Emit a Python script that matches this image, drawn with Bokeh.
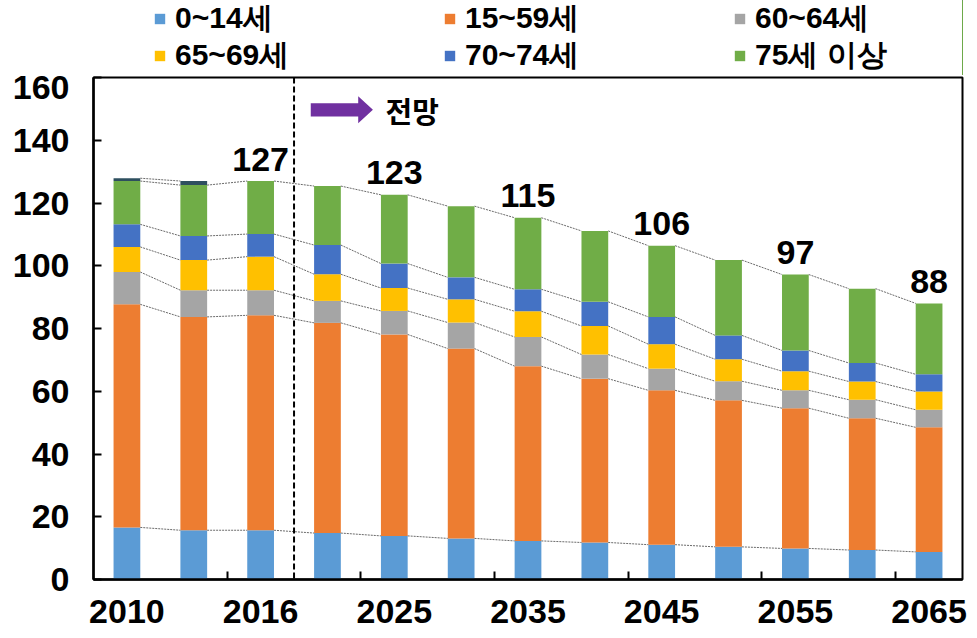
import numpy as np
from bokeh.plotting import figure
from bokeh.layouts import column
from bokeh.models import (Range1d, FixedTicker, Legend, LegendItem, Span, Label,
                          PolyAnnotation, ColumnDataSource)
from bokeh.embed import file_html
from bokeh.resources import INLINE
from bokeh.core.properties import value

# ---------------- data ----------------
years = ["2010", "2013", "2016", "2020", "2025", "2030", "2035",
         "2040", "2045", "2050", "2055", "2060", "2065"]
shown_years = ["2010", "2016", "2025", "2035", "2045", "2055", "2065"]
labelled_years = ["2016", "2025", "2035", "2045", "2055", "2065"]

age0_14 = [16.6, 15.7, 15.7, 14.8, 13.9, 13.1, 12.3, 11.8, 11.1, 10.4, 9.9, 9.4, 8.8]
age15_59 = [71.1, 68.0, 68.5, 67.0, 64.2, 60.5, 55.7, 52.2, 49.2, 46.7, 44.7, 42.0, 39.7]
age60_64 = [10.3, 8.5, 8.0, 7.0, 7.5, 8.3, 9.3, 7.7, 6.9, 6.1, 5.7, 5.9, 5.6]
age65_69 = [8.0, 9.6, 10.7, 8.5, 7.3, 7.4, 8.2, 9.1, 7.8, 7.0, 6.1, 5.8, 5.8]
age70_74 = [7.2, 7.7, 7.2, 9.3, 7.8, 7.0, 7.0, 7.7, 8.7, 7.6, 6.6, 5.9, 5.5]
age75_up = [13.8, 16.2, 16.9, 18.8, 21.9, 22.7, 22.8, 22.6, 22.7, 24.0, 24.2, 23.7, 22.6]
age_other = [0.9, 1.3, 0, 0, 0, 0, 0, 0, 0, 0, 0, 0, 0]

series_names = ["0~14세", "15~59세", "60~64세", "65~69세", "70~74세", "75세 이상"]
y_ticks = [0, 20, 40, 60, 80, 100, 120, 140, 160]

# ---------------- styles ----------------
colors = ["#5B9BD5", "#ED7D31", "#A5A5A5", "#FFC000", "#4472C4", "#70AD47", "#2E4F5F"]
LATIN = "Liberation Sans"
HALF = 0.2  # half bar width
W = 969
LEG_H = 75

series = [age0_14, age15_59, age60_64, age65_69, age70_74, age75_up, age_other]
keys = ["s%d" % i for i in range(len(series))]
x = list(range(1, len(years) + 1))
data = {"x": x}
for k, s in zip(keys, series):
    data[k] = s
src = ColumnDataSource(data)

p = figure(width=W, height=631 - LEG_H, x_range=Range1d(0.5, len(years) + 0.5),
           y_range=Range1d(y_ticks[0], y_ticks[-1]),
           output_backend="svg", toolbar_location=None,
           min_border_left=93, min_border_right=7, min_border_bottom=52,
           min_border_top=2)

rs = p.vbar_stack(keys, x="x", width=2 * HALF, source=src,
                  fill_color=colors, line_color=None)

# connector lines between cumulative levels
arr = np.array(series, dtype=float)
cum = np.cumsum(arr, axis=0)
xa = np.array(x, dtype=float)
sx0, sy0, sx1, sy1 = [], [], [], []
for k in range(len(series)):
    for i in range(len(x) - 1):
        if k == len(series) - 1 and (arr[k, i] == 0 or arr[k, i + 1] == 0):
            continue
        sx0.append(float(xa[i] + HALF))
        sy0.append(float(cum[k, i]))
        sx1.append(float(xa[i + 1] - HALF))
        sy1.append(float(cum[k, i + 1]))
p.segment(x0=sx0, y0=sy0, x1=sx1, y1=sy1, line_color="#6b6b6b",
          line_width=1, line_dash="2 1")

# total labels
totals = cum[-1]
lx = [x[years.index(y)] for y in labelled_years]
ly = [float(totals[years.index(y)]) for y in labelled_years]
lt = ["%d" % round(v) for v in ly]
p.text(x=lx, y=ly, text=lt, text_align="center", text_baseline="middle",
       y_offset=-22, text_font=value(LATIN), text_font_style="bold",
       text_font_size="34px", text_color="black")

# forecast divider
div_x = x[years.index("2016")] + 0.5
p.add_layout(Span(location=div_x, dimension="height", line_color="black",
                  line_width=2, line_dash="6 3"))

# arrow + text
ax0, ax_head, ax1, ayc = 3.75, 4.46, 4.68, 149.7
sh, hh = 2.1, 4.3
p.add_layout(PolyAnnotation(
    xs=[ax0, ax_head, ax_head, ax1, ax_head, ax_head, ax0],
    ys=[ayc - sh, ayc - sh, ayc - hh, ayc, ayc + hh, ayc + sh, ayc + sh],
    fill_color="#7030A0", fill_alpha=1, line_color=None))
p.add_layout(Label(x=4.87, y=ayc, text="전망", text_baseline="middle",
                   text_font="Noto Sans CJK KR", text_font_style="bold",
                   text_font_size="29px", text_color="black"))

# axes
p.xgrid.grid_line_color = None
p.ygrid.grid_line_color = None
p.outline_line_color = "black"
p.outline_line_width = 2

shown_x = [x[years.index(y)] for y in shown_years]
minor = [x[i] + 0.5 for i in range(1, len(x) - 1, 2)]
p.xaxis.ticker = FixedTicker(ticks=shown_x, minor_ticks=minor)
p.xaxis.major_label_overrides = {sx: y for sx, y in zip(shown_x, shown_years)}
p.xaxis.major_tick_line_color = None
p.xaxis.minor_tick_in = 8
p.xaxis.minor_tick_out = 0
p.xaxis.minor_tick_line_color = "black"
p.xaxis.minor_tick_line_width = 2
p.xaxis.major_label_standoff = 14

p.yaxis.ticker = FixedTicker(ticks=y_ticks)
p.yaxis.minor_tick_line_color = None
p.yaxis.major_tick_in = 8
p.yaxis.major_tick_out = 0
p.yaxis.major_tick_line_width = 2
p.yaxis.major_label_standoff = 24

for ax in (p.xaxis, p.yaxis):
    ax.axis_line_color = "black"
    ax.axis_line_width = 2.5
    ax.major_label_text_font = LATIN
    ax.major_label_text_font_style = "bold"
    ax.major_label_text_font_size = "34px"
    ax.major_label_text_color = "black"

# ---------------- legend strip above the chart ----------------
# (its frame is aligned with the chart's frame by the column layout;
#  the swatch renderers use the same data but lie outside the strip's view)
leg = figure(width=W, height=LEG_H, x_range=Range1d(-100, -99), y_range=Range1d(0, 1),
             x_axis_type=None, y_axis_type=None, output_backend="svg",
             toolbar_location=None, min_border=0, outline_line_color=None)
leg.xgrid.grid_line_color = None
leg.ygrid.grid_line_color = None
swatches = [leg.vbar(x="x", top=k, width=2 * HALF, source=src,
                     fill_color=c, line_color=None)
            for k, c in zip(keys[:6], colors[:6])]
row_bottoms = [36, -1]
for row in range(2):
    items = [LegendItem(label=series_names[j], renderers=[swatches[j]])
             for j in range(row * 3, row * 3 + 3)]
    lg = Legend(items=items, orientation="horizontal",
                location=(60, row_bottoms[row]), margin=0, padding=0,
                spacing=121, glyph_width=13, glyph_height=13, label_standoff=9,
                label_width=147, label_text_font=LATIN,
                label_text_font_style="bold", label_text_font_size="30px",
                label_text_color="black", border_line_color=None,
                background_fill_alpha=0)
    leg.add_layout(lg)

layout = column(leg, p, spacing=0)
open("out.html", "w").write(file_html(layout, INLINE))
